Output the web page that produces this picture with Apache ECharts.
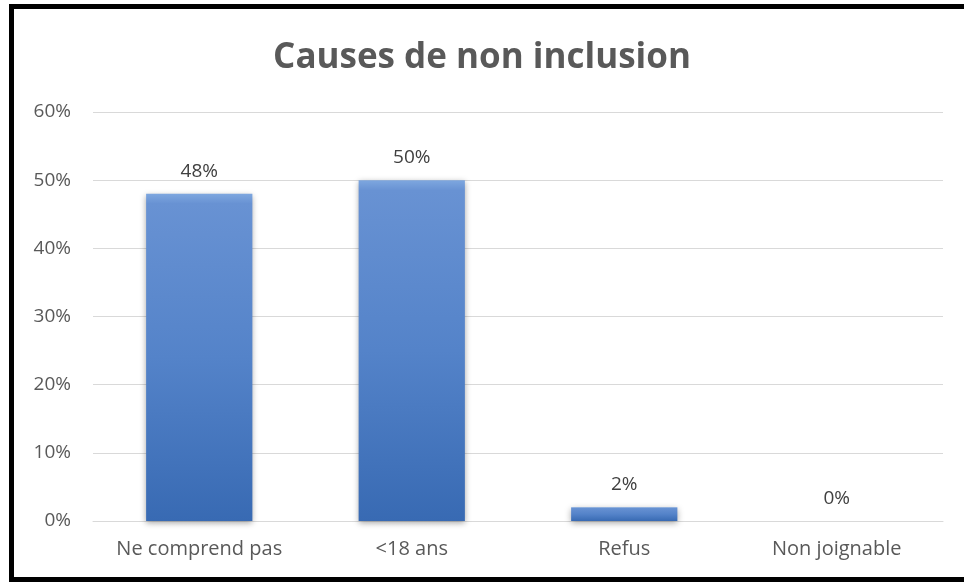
<!DOCTYPE html>
<html>
<head>
<meta charset="utf-8">
<script src="https://cdn.jsdelivr.net/npm/echarts@6/dist/echarts.min.js"></script>
<style>
html,body{margin:0;padding:0;background:#fff;}
#c{width:964px;height:582px;}
</style>
</head>
<body>
<div id="c"></div>
<script>
const titleText = "Causes de non inclusion";
const categories = ["Ne comprend pas", "<18 ans", "Refus", "Non joignable"];
const values = [0.48, 0.50, 0.02, 0.00];
const yTicks = { min: 0, max: 0.6, interval: 0.1 };

const chart = echarts.init(document.getElementById('c'), null, {renderer: 'canvas'});
const fontFam = "'Open Sans', 'Noto Sans', sans-serif";
const pct = v => Math.round(v * 100) + '%';

chart.setOption({
  backgroundColor: '#fff',
  animation: false,
  title: {
    text: titleText,
    left: 'center',
    top: 36,
    textStyle: { fontFamily: fontFam, fontSize: 35, fontWeight: 'bold', color: '#595959' }
  },
  grid: { left: 93, right: 21, top: 112, bottom: 61, containLabel: false },
  xAxis: {
    type: 'category',
    data: categories,
    axisLine: { show: true, lineStyle: { color: '#d9d9d9', width: 1 } },
    axisTick: { show: false },
    axisLabel: { interval: 0, hideOverlap: false, fontFamily: fontFam, fontSize: 20, color: '#595959', margin: 18 }
  },
  yAxis: {
    type: 'value',
    min: yTicks.min, max: yTicks.max, interval: yTicks.interval,
    axisLine: { show: false },
    axisTick: { show: false },
    splitLine: { lineStyle: { color: '#d9d9d9', width: 1 } },
    axisLabel: { fontFamily: fontFam, fontSize: 19, color: '#595959', margin: 22, formatter: pct }
  },
  series: [{
    type: 'bar',
    data: values,
    barWidth: '50%',
    itemStyle: {
      color: {
        type: 'linear', x: 0, y: 0, x2: 0, y2: 1,
        colorStops: [
          { offset: 0, color: '#7ea7df' },
          { offset: 0.03, color: '#6892d3' },
          { offset: 0.5, color: '#5483c9' },
          { offset: 1, color: '#386ab3' }
        ]
      },
      shadowColor: 'rgba(0,0,0,0.35)',
      shadowBlur: 6,
      shadowOffsetX: 0,
      shadowOffsetY: 2
    },
    label: {
      show: true,
      position: 'top',
      distance: 13,
      fontFamily: fontFam,
      fontSize: 19,
      color: '#404040',
      formatter: p => pct(p.value)
    }
  }],
  graphic: [{
    type: 'rect',
    shape: { x: 11.5, y: 6.5, width: 1000, height: 573 },
    style: { fill: null, stroke: '#000', lineWidth: 5 },
    silent: true,
    z: 100
  }]
});
</script>
</body>
</html>
